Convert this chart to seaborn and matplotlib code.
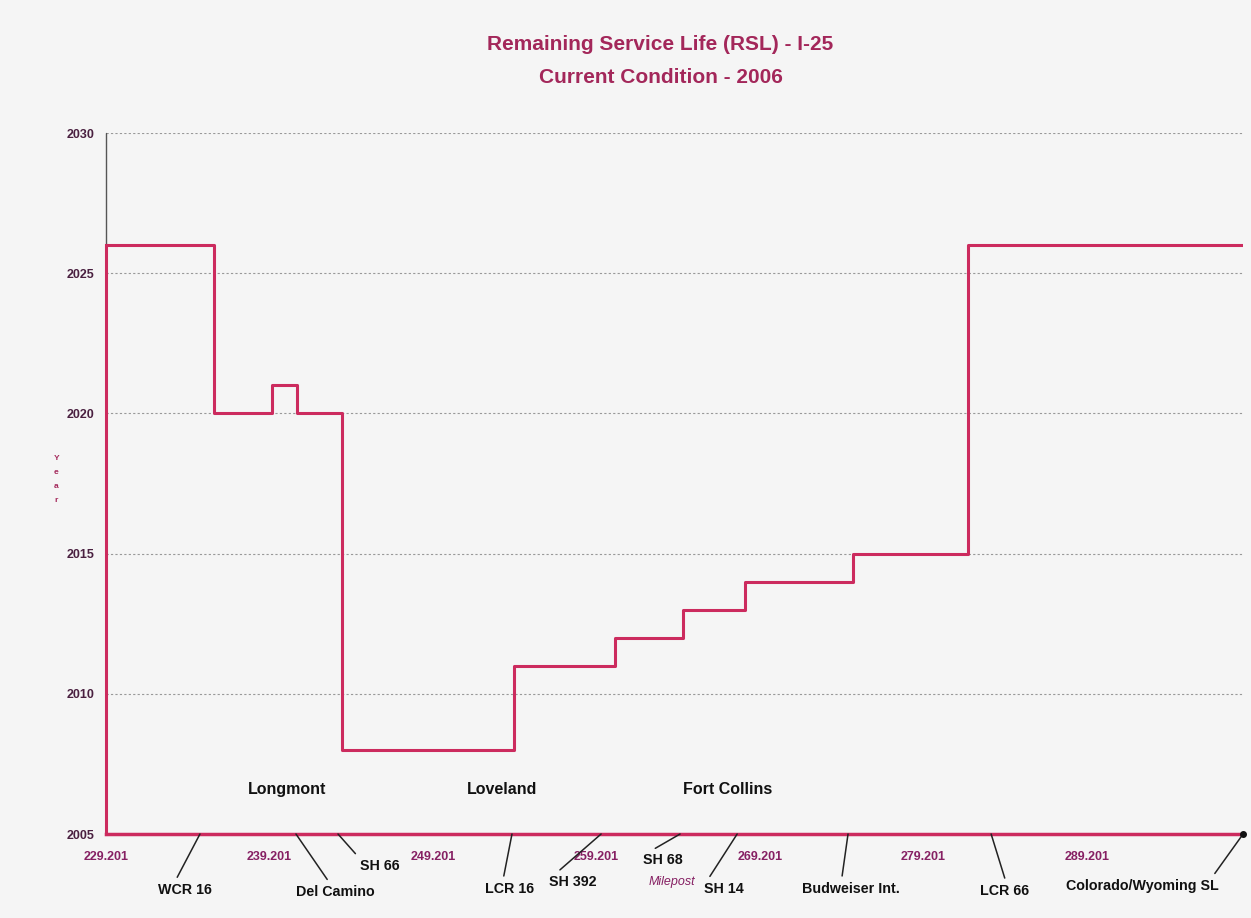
import pandas as pd
import matplotlib.pyplot as plt
import seaborn as sns

sns.set_theme(style='white')
plt.rcParams['font.family'] = ['Liberation Sans', 'DejaVu Sans']

# step breaks (milepost where each segment starts) and RSL year of the segment
breaks = [229.201, 235.81, 239.35, 240.88, 243.64, 254.16, 260.33, 264.49, 268.28, 274.89, 281.92, 298.74]
rsl = [2026, 2020, 2021, 2020, 2008, 2011, 2012, 2013, 2014, 2015, 2026, 2026]

xticks = [229.201, 239.201, 249.201, 259.201, 269.201, 279.201, 289.201]
yticks = [2005, 2010, 2015, 2020, 2025, 2030]

# points along the road
places = ['WCR 16', 'Del Camino', 'SH 66', 'LCR 16', 'SH 392', 'SH 68', 'SH 14',
          'Budweiser Int.', 'LCR 66', 'Colorado/Wyoming SL']
place_mp = [234.95, 240.82, 243.39, 254.03, 259.48, 264.31, 267.80, 274.58, 283.33, 298.74]

cities = ['Longmont', 'Loveland', 'Fort Collins']
city_mp = [240.3, 253.4, 267.2]
city_y = 2006.6

# label layout: offset of label from its point (pixels) and where the leader starts on the label
label_off = [(-15, -56), (39, -58), (42, -32), (-2, -55), (-28, -48), (-17, -26),
             (-13, -55), (3, -55), (13, -57), (-101, -52)]
label_rel = [(0.3, 1), (0.45, 1), (0.0, 1), (0.35, 1), (0.1, 1), (0.1, 1),
             (0.05, 1), (0.4, 1), (0.55, 1), (0.95, 1)]

line_col = '#cc2b5e'
title_col = '#a3275a'
tick_col = '#862063'
bg = '#f5f5f5'

df = pd.DataFrame({'Milepost': breaks, 'Year': rsl})

fig = plt.figure(figsize=(12.51, 9.18), dpi=100, facecolor=bg)
ax = fig.add_axes([0.0847, 0.0915, 0.909, 0.7635])
ax.set_facecolor(bg)

sns.lineplot(data=df, x='Milepost', y='Year', drawstyle='steps-post',
             color=line_col, lw=2.2, ax=ax)

ax.set_xlim(breaks[0], breaks[-1])
ax.set_ylim(yticks[0], yticks[-1])
ax.set_xticks(xticks)
ax.set_xticklabels([f'{t:.3f}' for t in xticks])
ax.set_yticks(yticks)

for y in yticks[1:]:
    ax.axhline(y, color='#999999', lw=0.8, ls=(0, (2, 2)), zorder=0)

for s in ['top', 'right']:
    ax.spines[s].set_visible(False)
ax.spines['bottom'].set_color(line_col)
ax.spines['bottom'].set_linewidth(2.5)
ax.spines['left'].set_color(line_col)
ax.spines['left'].set_linewidth(2.2)
ax.spines['left'].set_bounds(yticks[0], rsl[0])
ax.plot([breaks[0], breaks[0]], [rsl[0], yticks[-1]], color='#555555', lw=1, clip_on=False)

ax.tick_params(axis='x', direction='inout', length=8, width=1.5, color=line_col,
               labelsize=9, labelcolor=tick_col, pad=8)
ax.tick_params(axis='y', direction='out', length=5, width=0.8, color='#888888',
               labelsize=9, labelcolor='#4a2040', pad=3)
for lab in ax.get_xticklabels() + ax.get_yticklabels():
    lab.set_fontweight('bold')

ax.set_xlabel('')
ax.set_ylabel('')

for name, mp, off, rel in zip(places, place_mp, label_off, label_rel):
    ax.annotate(name, xy=(mp, yticks[0]), xytext=off, textcoords='offset pixels',
                ha='center', va='center', fontsize=10.3, fontweight='bold', color='#111111',
                arrowprops=dict(arrowstyle='-', color='#222222', lw=1.1, shrinkA=2,
                                shrinkB=0, relpos=rel),
                annotation_clip=False)
ax.plot(place_mp[-1], yticks[0], 'o', color='#111111', ms=4, clip_on=False, zorder=5)

for name, mp in zip(cities, city_mp):
    ax.text(mp, city_y, name, ha='center', va='center', fontsize=11.5,
            fontweight='bold', color='#111111')

fig.text(0.537, 0.039, 'Milepost', ha='center', va='center', fontsize=9,
         style='italic', color=tick_col)
fig.text(0.045, 0.478, 'Y\ne\na\nr', ha='center', va='center', fontsize=6,
         fontweight='bold', color=title_col, linespacing=2.4)

fig.text(0.528, 0.951, 'Remaining Service Life (RSL) - I-25', ha='center', va='center',
         fontsize=15, fontweight='bold', color=title_col)
fig.text(0.528, 0.916, 'Current Condition - 2006', ha='center', va='center',
         fontsize=15, fontweight='bold', color=title_col)

fig.savefig('out.png', dpi=100, facecolor=bg)
